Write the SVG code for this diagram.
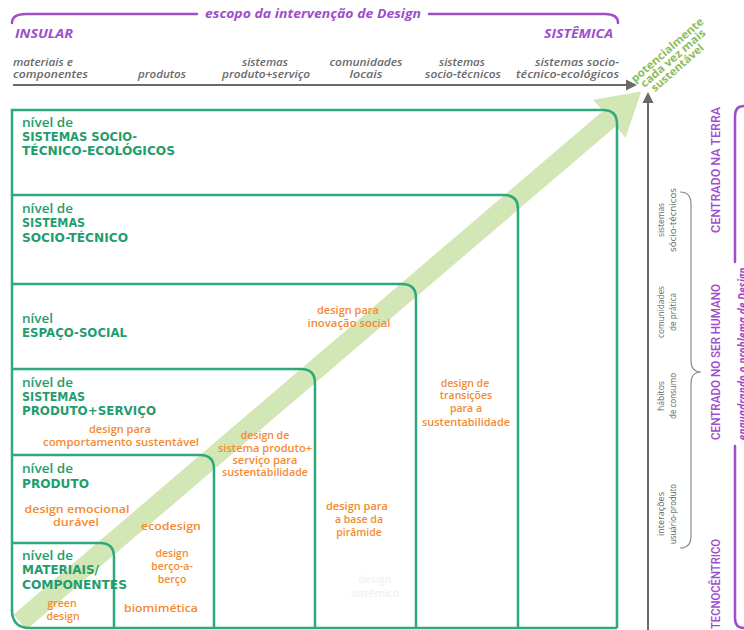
<svg xmlns="http://www.w3.org/2000/svg" width="744" height="630" viewBox="0 0 744 630">
<style>
.pur{fill:#a04dcc;font-family:"Open Sans",sans-serif;font-weight:bold;font-style:italic}
.purv{fill:#a04dcc;font-family:Roboto,"Open Sans",sans-serif;font-size:13px;font-weight:500}
.col{fill:#6a6a6a;font-family:"Open Sans",sans-serif;font-size:10px;font-style:italic;font-weight:600}
.gv{fill:#666666;font-family:"Open Sans",sans-serif;font-size:9.5px}
.gh{fill:#1f9d6e;font-family:"DejaVu Sans",sans-serif;font-size:11.5px;font-weight:bold}
.gl{fill:#1f9d6e;font-family:"Open Sans",sans-serif;font-size:12px;font-weight:600}
.or{fill:#f68a30;font-family:"Open Sans",sans-serif;font-size:10.5px;font-weight:600;text-anchor:middle}
.faint{fill:#f1f1f1;font-family:"Open Sans",sans-serif;font-size:10.5px;font-weight:600;text-anchor:middle}
.gt{fill:#8fbd5c;font-family:"Open Sans",sans-serif;font-size:11px;font-weight:bold}
.box{fill:none;stroke:#2ea97b;stroke-width:2.5}
.pl{fill:none;stroke:#a04dcc;stroke-width:2.5;stroke-linecap:round}
.gray{fill:none;stroke:#6a6a6a;stroke-width:2}
.brace{fill:none;stroke:#8a8a8a;stroke-width:1.2}
</style>

<g id="scope-header">
<path class="pl" d="M12,23 Q12,14 26,14 H197"/>
<path class="pl" d="M429,14 H605 Q618,14 618,23"/>
<text class="pur" x="313" y="18" font-size="13" text-anchor="middle" textLength="216" lengthAdjust="spacingAndGlyphs">escopo da intervenção de Design</text>
<text class="pur" x="15" y="38" font-size="12.5" textLength="58" lengthAdjust="spacingAndGlyphs">INSULAR</text>
<text class="pur" x="613" y="38" font-size="12.5" text-anchor="end" textLength="69" lengthAdjust="spacingAndGlyphs">SISTÊMICA</text>
</g>

<g id="column-labels">
<text class="col" x="13" y="66" textLength="60" lengthAdjust="spacingAndGlyphs">materiais e</text>
<text class="col" x="13" y="78" textLength="75" lengthAdjust="spacingAndGlyphs">componentes</text>
<text class="col" x="162" y="78" text-anchor="middle" textLength="48" lengthAdjust="spacingAndGlyphs">produtos</text>
<text class="col" x="265" y="66" text-anchor="middle" textLength="46" lengthAdjust="spacingAndGlyphs">sistemas</text>
<text class="col" x="266" y="78" text-anchor="middle" textLength="88" lengthAdjust="spacingAndGlyphs">produto+serviço</text>
<text class="col" x="366" y="66" text-anchor="middle" textLength="73" lengthAdjust="spacingAndGlyphs">comunidades</text>
<text class="col" x="366" y="78" text-anchor="middle" textLength="33" lengthAdjust="spacingAndGlyphs">locais</text>
<text class="col" x="462" y="66" text-anchor="middle" textLength="46" lengthAdjust="spacingAndGlyphs">sistemas</text>
<text class="col" x="463" y="78" text-anchor="middle" textLength="76" lengthAdjust="spacingAndGlyphs">socio-técnicos</text>
<text class="col" x="619" y="66" text-anchor="end" textLength="84" lengthAdjust="spacingAndGlyphs">sistemas socio-</text>
<text class="col" x="619" y="78" text-anchor="end" textLength="103" lengthAdjust="spacingAndGlyphs">técnico-ecológicos</text>
</g>

<g id="big-arrow">
<polygon transform="translate(20,622) rotate(-40.5)" fill="#d3e6b5" points="0,-10 775,-10 775,-25 817,0 775,25 775,10 0,10"/>
</g>

<g id="connectors">
<line class="gray" x1="13" y1="85" x2="627" y2="85"/>
<polygon fill="#6a6a6a" points="626,79.5 637,85 626,90.5"/>
<line class="gray" x1="648" y1="630" x2="648" y2="102"/>
<polygon fill="#6a6a6a" points="642.5,103 648,92 653.5,103"/>
<path class="brace" d="M680,192 Q691,192 691,204 V360 Q691,372 701,372 Q691,372 691,384 V536 Q691,548 680,548"/>
<path class="pl" d="M744,106 Q735,106 735,116 V262"/>
<path class="pl" d="M735,446 V618 Q735,628 744,628"/>
</g>

<g id="sustainable-label">
<g transform="translate(635,83) rotate(-41)">
<text class="gt" x="0" y="0" textLength="92" lengthAdjust="spacingAndGlyphs">potencialmente</text>
<text class="gt" x="4" y="10" textLength="82" lengthAdjust="spacingAndGlyphs">cada vez mais</text>
<text class="gt" x="9" y="20" textLength="66" lengthAdjust="spacingAndGlyphs">sustentável</text>
</g>
</g>

<g id="level-boxes">
<path class="box" d="M12,611 V110 H603 Q617,110 617,124 V628"/>
<path class="box" d="M12,195 H504 Q518,195 518,209 V628"/>
<path class="box" d="M12,284 H402 Q416,284 416,298 V628"/>
<path class="box" d="M12,369 H301 Q315,369 315,383 V628"/>
<path class="box" d="M12,455 H200 Q214,455 214,469 V628"/>
<path class="box" d="M12,543 H100 Q114,543 114,557 V628"/>
<path class="box" d="M12,610 Q12,628 30,628 H617"/>
</g>

<g id="level-socio-tecnico-ecologico">
<text class="gl" x="22" y="127" textLength="51" lengthAdjust="spacingAndGlyphs">nível de</text>
<text class="gh" x="22" y="141" textLength="115" lengthAdjust="spacingAndGlyphs">SISTEMAS SOCIO-</text>
<text class="gh" x="22" y="155" textLength="153" lengthAdjust="spacingAndGlyphs">TÉCNICO-ECOLÓGICOS</text>
</g>
<g id="level-socio-tecnico">
<text class="gl" x="22" y="213" textLength="51" lengthAdjust="spacingAndGlyphs">nível de</text>
<text class="gh" x="22" y="227" textLength="63" lengthAdjust="spacingAndGlyphs">SISTEMAS</text>
<text class="gh" x="22" y="242" textLength="106" lengthAdjust="spacingAndGlyphs">SOCIO-TÉCNICO</text>
</g>
<g id="level-espaco-social">
<text class="gl" x="22" y="323" textLength="31" lengthAdjust="spacingAndGlyphs">nível</text>
<text class="gh" x="22" y="337" textLength="105" lengthAdjust="spacingAndGlyphs">ESPAÇO-SOCIAL</text>
<text class="or" x="348" y="314" textLength="62" lengthAdjust="spacingAndGlyphs">design para</text>
<text class="or" x="349" y="327" textLength="83" lengthAdjust="spacingAndGlyphs">inovação social</text>
</g>
<g id="level-produto-servico">
<text class="gl" x="22" y="387" textLength="51" lengthAdjust="spacingAndGlyphs">nível de</text>
<text class="gh" x="22" y="401" textLength="63" lengthAdjust="spacingAndGlyphs">SISTEMAS</text>
<text class="gh" x="22" y="415" textLength="134" lengthAdjust="spacingAndGlyphs">PRODUTO+SERVIÇO</text>
<text class="or" x="120" y="433" textLength="62" lengthAdjust="spacingAndGlyphs">design para</text>
<text class="or" x="121" y="446" textLength="156" lengthAdjust="spacingAndGlyphs">comportamento sustentável</text>
</g>
<g id="level-produto">
<text class="gl" x="22" y="473" textLength="51" lengthAdjust="spacingAndGlyphs">nível de</text>
<text class="gh" x="22" y="488" textLength="67" lengthAdjust="spacingAndGlyphs">PRODUTO</text>
<text class="or" x="77" y="513" textLength="105" lengthAdjust="spacingAndGlyphs">design emocional</text>
<text class="or" x="76" y="526" textLength="46" lengthAdjust="spacingAndGlyphs">durável</text>
</g>
<g id="level-materiais">
<text class="gl" x="22" y="560" textLength="51" lengthAdjust="spacingAndGlyphs">nível de</text>
<text class="gh" x="22" y="574" textLength="77" lengthAdjust="spacingAndGlyphs">MATERIAIS/</text>
<text class="gh" x="22" y="589" textLength="105" lengthAdjust="spacingAndGlyphs">COMPONENTES</text>
<text class="or" x="62" y="607">green</text>
<text class="or" x="63" y="620">design</text>
</g>

<g id="column-approaches">
<text class="or" x="171" y="530" textLength="60" lengthAdjust="spacingAndGlyphs">ecodesign</text>
<text class="or" x="172" y="557">design</text>
<text class="or" x="172" y="570">berço-a-</text>
<text class="or" x="172" y="583">berço</text>
<text class="or" x="161" y="612" textLength="74" lengthAdjust="spacingAndGlyphs">biomimética</text>
<text class="or" x="265" y="439">design de</text>
<text class="or" x="265" y="452" textLength="94" lengthAdjust="spacingAndGlyphs">sistema produto+</text>
<text class="or" x="265" y="464" textLength="65" lengthAdjust="spacingAndGlyphs">serviço para</text>
<text class="or" x="265" y="476" textLength="86" lengthAdjust="spacingAndGlyphs">sustentabilidade</text>
<text class="or" x="357" y="510" textLength="62" lengthAdjust="spacingAndGlyphs">design para</text>
<text class="or" x="359" y="523">a base da</text>
<text class="or" x="359" y="536">pirâmide</text>
<text class="faint" x="375" y="583">design</text>
<text class="faint" x="375" y="597">sistêmico</text>
<text class="or" x="465" y="387">design de</text>
<text class="or" x="466" y="399">transições</text>
<text class="or" x="466" y="412">para a</text>
<text class="or" x="466" y="426" textLength="88" lengthAdjust="spacingAndGlyphs">sustentabilidade</text>
</g>

<g id="focus-labels">
<text class="gv" transform="translate(664,220) rotate(-90)" text-anchor="middle" textLength="34" lengthAdjust="spacingAndGlyphs">sistemas</text>
<text class="gv" transform="translate(676,220) rotate(-90)" text-anchor="middle" textLength="64" lengthAdjust="spacingAndGlyphs">sócio-técnicos</text>
<text class="gv" transform="translate(664,312) rotate(-90)" text-anchor="middle" textLength="52" lengthAdjust="spacingAndGlyphs">comunidades</text>
<text class="gv" transform="translate(676,312) rotate(-90)" text-anchor="middle" textLength="38" lengthAdjust="spacingAndGlyphs">de prática</text>
<text class="gv" transform="translate(664,396) rotate(-90)" text-anchor="middle" textLength="30" lengthAdjust="spacingAndGlyphs">hábitos</text>
<text class="gv" transform="translate(676,396) rotate(-90)" text-anchor="middle" textLength="46" lengthAdjust="spacingAndGlyphs">de consumo</text>
<text class="gv" transform="translate(664,514) rotate(-90)" text-anchor="middle" textLength="44" lengthAdjust="spacingAndGlyphs">interações</text>
<text class="gv" transform="translate(676,514) rotate(-90)" text-anchor="middle" textLength="60" lengthAdjust="spacingAndGlyphs">usuário-produto</text>
</g>

<g id="centricity-labels">
<text class="purv" transform="translate(720,170) rotate(-90)" text-anchor="middle" textLength="126" lengthAdjust="spacingAndGlyphs">CENTRADO NA TERRA</text>
<text class="purv" transform="translate(720,362) rotate(-90)" text-anchor="middle" textLength="156" lengthAdjust="spacingAndGlyphs">CENTRADO NO SER HUMANO</text>
<text class="purv" transform="translate(720,584) rotate(-90)" text-anchor="middle" textLength="90" lengthAdjust="spacingAndGlyphs">TECNOCÊNTRICO</text>
<text class="pur" transform="translate(747,354) rotate(-90)" font-size="12" text-anchor="middle" textLength="173" lengthAdjust="spacingAndGlyphs">enquadrando o problema de Design</text>
</g>
</svg>
